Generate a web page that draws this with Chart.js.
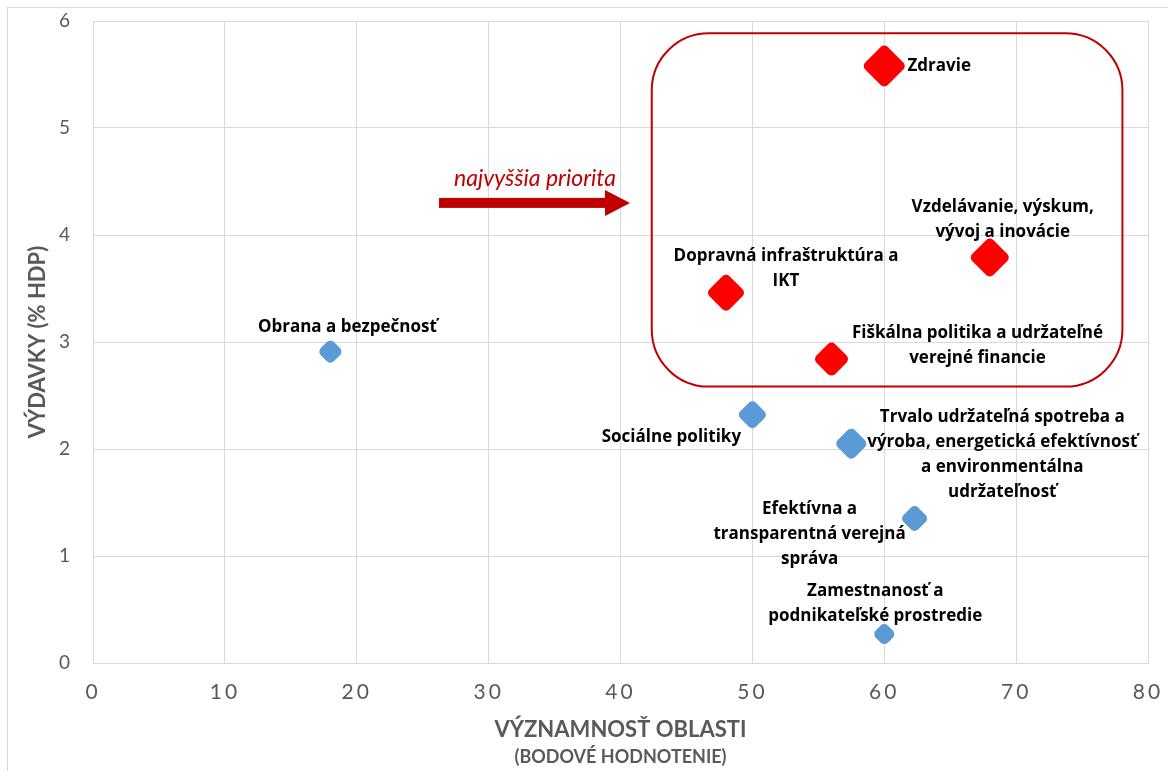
<!DOCTYPE html>
<html>
<head>
<meta charset="utf-8">
<script src="https://cdn.jsdelivr.net/npm/chart.js@4.4.1/dist/chart.umd.min.js"></script>
<style>
  html, body { margin: 0; padding: 0; background: #fff; }
  #chart-box { display: block; }
</style>
</head>
<body>
<canvas id="chart-box" width="1168" height="771"></canvas>
<script>
// oblasti mimo najvyssej priority
const otherAreas = [
  "Obrana a bezpečnosť",
  "Sociálne politiky",
  "Trvalo udržateľná spotreba a\nvýroba, energetická efektívnosť\na environmentálna\nudržateľnosť",
  "Efektívna a\ntransparentná verejná\nspráva",
  "Zamestnanosť a\npodnikateľské prostredie",
];
const otherScore = [18, 50, 57.5, 62.3, 60];
const otherSpend = [2.91, 2.32, 2.05, 1.35, 0.27];
const otherWeight = [6, 8.5, 10, 7.5, 5];

// najvyssia priorita
const priorityAreas = [
  "Dopravná infraštruktúra a\nIKT",
  "Zdravie",
  "Vzdelávanie, výskum,\nvývoj a inovácie",
  "Fiškálna politika a udržateľné\nverejné financie",
];
const priorityScore = [48, 60, 68, 56];
const prioritySpend = [3.46, 5.58, 3.79, 2.84];
const priorityWeight = [13, 15.5, 14, 11.5];

const xTicksMax = 80;
const yTicksMax = 6;
const xTitle = "VÝZNAMNOSŤ OBLASTI";
const xSubTitle = "(BODOVÉ HODNOTENIE)";
const yTitle = "VÝDAVKY (% HDP)";
const priorityText = "najvyššia priorita";

// label offsets from the point centre (px)
const otherLabelPos = [[17, -24], [-81, 22], [151, 11], [-105, 16], [-9, -30]];
const priorityLabelPos = [[60, -24], [55, 0], [13, -38], [146, -13]];

const BLUE = "#5b9bd5";
const RED = "#ff0000";
const DARK_RED = "#c00000";
const GRID = "#d9d9d9";
const AXIS_TEXT = "#595959";
const FONT = "Lato, 'Open Sans', sans-serif";
const LABEL_FONT = "'Open Sans', Lato, sans-serif";

function toPoints(xs, ys) {
  return xs.map((x, i) => ({ x: x, y: ys[i] }));
}

const decorations = {
  id: "decorations",
  beforeDraw(chart) {
    const c = chart.ctx;
    c.save();
    c.strokeStyle = GRID;
    c.lineWidth = 1;
    c.strokeRect(7.5, 7.5, 1300, 900);
    c.restore();
    // x tick labels are spaced out in the original
    c.letterSpacing = "3px";
  },
  beforeDatasetsDraw(chart) {
    const c = chart.ctx;
    c.letterSpacing = "0px";
    const xs = chart.scales.x;
    const ys = chart.scales.y;

    // ram okolo oblasti s najvyssou prioritou
    c.save();
    c.strokeStyle = DARK_RED;
    c.lineWidth = 2;
    const left = xs.getPixelForValue(42.37);
    const right = xs.getPixelForValue(78.06);
    const top = ys.getPixelForValue(5.885);
    const bottom = ys.getPixelForValue(2.583);
    c.beginPath();
    c.roundRect(left, top, right - left, bottom - top, 57);
    c.stroke();

    // sipka
    const ax0 = xs.getPixelForValue(26.24);
    const ax1 = xs.getPixelForValue(40.72);
    const ay = ys.getPixelForValue(4.3);
    c.fillStyle = DARK_RED;
    c.fillRect(ax0, ay - 5, ax1 - 25 - ax0, 10);
    c.beginPath();
    c.moveTo(ax1 - 25, ay - 13);
    c.lineTo(ax1, ay);
    c.lineTo(ax1 - 25, ay + 13);
    c.closePath();
    c.fill();

    c.font = "italic 23px " + FONT;
    c.textAlign = "center";
    c.textBaseline = "middle";
    c.fillText(priorityText, xs.getPixelForValue(33.52), ys.getPixelForValue(4.53));
    c.restore();
  },
  beforeDatasetDraw(chart) {
    // rounded diamond corners
    chart.ctx.lineJoin = "round";
  },
  afterDatasetsDraw(chart) {
    const c = chart.ctx;
    c.save();
    c.font = "bold 17px " + LABEL_FONT;
    c.fillStyle = "#000";
    c.textAlign = "center";
    c.textBaseline = "middle";
    const lineH = 25;
    chart.data.datasets.forEach((ds, di) => {
      const meta = chart.getDatasetMeta(di);
      meta.data.forEach((pt, i) => {
        const lines = ds.areas[i].split("\n");
        const off = ds.labelPos[i];
        const cy = pt.y + off[1] - (lines.length - 1) * lineH / 2;
        lines.forEach((ln, k) => {
          c.fillText(ln, pt.x + off[0], cy + k * lineH);
        });
      });
    });
    c.restore();
  },
  afterDraw(chart) {
    const c = chart.ctx;
    const area = chart.chartArea;
    c.save();
    c.letterSpacing = "0px";
    c.fillStyle = AXIS_TEXT;
    c.textAlign = "center";
    c.textBaseline = "middle";
    const cx = (area.left + area.right) / 2;
    c.font = "bold 22px " + FONT;
    c.fillText(xTitle, cx, 730);
    c.font = "bold 18px " + FONT;
    c.fillText(xSubTitle, cx, 757);
    c.translate(38, (area.top + area.bottom) / 2);
    c.rotate(-Math.PI / 2);
    c.font = "bold 22px " + FONT;
    c.fillText(yTitle, 0, 0);
    c.restore();
  },
};

const ctx = document.getElementById("chart-box").getContext("2d");
const chart = new Chart(ctx, {
  type: "scatter",
  data: {
    datasets: [
      {
        label: "Ostatné oblasti",
        data: toPoints(otherScore, otherSpend),
        areas: otherAreas,
        labelPos: otherLabelPos,
        backgroundColor: BLUE,
        borderColor: BLUE,
        borderWidth: 10,
        pointStyle: "rectRot",
        pointRadius: (c) => otherWeight[c.dataIndex],
      },
      {
        label: "Najvyššia priorita",
        data: toPoints(priorityScore, prioritySpend),
        areas: priorityAreas,
        labelPos: priorityLabelPos,
        backgroundColor: RED,
        borderColor: RED,
        borderWidth: 10,
        pointStyle: "rectRot",
        pointRadius: (c) => priorityWeight[c.dataIndex],
      },
    ],
  },
  options: {
    responsive: false,
    animation: false,
    layout: {
      autoPadding: false,
      padding: { top: 21, right: 20, left: 0, bottom: 0 },
    },
    plugins: {
      legend: { display: false },
      tooltip: { enabled: false },
    },
    scales: {
      x: {
        type: "linear",
        min: 0,
        max: xTicksMax,
        ticks: {
          stepSize: 10,
          color: AXIS_TEXT,
          padding: 17,
          font: { family: FONT, size: 21 },
        },
        grid: { color: GRID, drawTicks: false },
        border: { color: GRID },
        afterFit(scale) {
          scale.height = 108;
          scale.paddingLeft = 10;
          scale.paddingRight = 10;
        },
      },
      y: {
        type: "linear",
        min: 0,
        max: yTicksMax,
        ticks: {
          stepSize: 1,
          color: AXIS_TEXT,
          padding: 20,
          font: { family: FONT, size: 19 },
        },
        grid: { color: GRID, drawTicks: false },
        border: { color: GRID },
        afterFit(scale) {
          scale.width = 93;
          scale.paddingTop = 10;
          scale.paddingBottom = 10;
        },
      },
    },
  },
  plugins: [decorations],
});
</script>
</body>
</html>
